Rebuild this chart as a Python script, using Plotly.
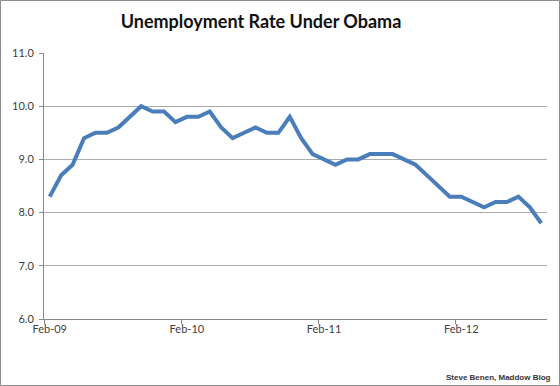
import plotly.graph_objects as go

months = ["Feb-09","Mar-09","Apr-09","May-09","Jun-09","Jul-09","Aug-09","Sep-09","Oct-09","Nov-09","Dec-09",
          "Jan-10","Feb-10","Mar-10","Apr-10","May-10","Jun-10","Jul-10","Aug-10","Sep-10","Oct-10","Nov-10","Dec-10",
          "Jan-11","Feb-11","Mar-11","Apr-11","May-11","Jun-11","Jul-11","Aug-11","Sep-11","Oct-11","Nov-11","Dec-11",
          "Jan-12","Feb-12","Mar-12","Apr-12","May-12","Jun-12","Jul-12","Aug-12","Sep-12"]
rate = [8.3, 8.7, 8.9, 9.4, 9.5, 9.5, 9.6, 9.8, 10.0, 9.9, 9.9,
        9.7, 9.8, 9.8, 9.9, 9.6, 9.4, 9.5, 9.6, 9.5, 9.5, 9.8, 9.4,
        9.1, 9.0, 8.9, 9.0, 9.0, 9.1, 9.1, 9.1, 9.0, 8.9, 8.7, 8.5,
        8.3, 8.3, 8.2, 8.1, 8.2, 8.2, 8.3, 8.1, 7.8]
tick_labels = ["Feb-09", "Feb-10", "Feb-11", "Feb-12"]
y_ticks = [6, 7, 8, 9, 10, 11]

idx = list(range(len(months)))
label_pos = [months.index(t) for t in tick_labels]
boundary_pos = [p - 0.5 for p in label_pos]

W, H = 560, 386
ml, mr, mt, mb = 44, 13, 53, 67

fig = go.Figure()
fig.add_trace(go.Scatter(x=idx, y=rate, mode="lines",
                         line=dict(color="#4A7EBB", width=4), hoverinfo="skip", showlegend=False))
# invisible trace to activate the tick-mark axis
fig.add_trace(go.Scatter(x=[idx[0]], y=[rate[0]], xaxis="x2", mode="markers",
                         marker=dict(opacity=0), hoverinfo="skip", showlegend=False))

font_ticks = dict(family="Lato, Open Sans, sans-serif", size=11, color="#404040")

fig.update_layout(
    width=W, height=H,
    margin=dict(l=ml, r=mr, t=mt, b=mb),
    paper_bgcolor="white", plot_bgcolor="white",
    title=dict(text="<b>Unemployment Rate Under Obama</b>", x=261 / W, xref="container", xanchor="center",
               y=1 - 22 / H, yanchor="middle", yref="container",
               font=dict(family="Lato, Open Sans, sans-serif", size=18, color="#111111")),
    xaxis=dict(range=[-0.5, len(months) - 0.5], tickvals=label_pos, ticktext=tick_labels,
               ticks="", showgrid=False, zeroline=False, showline=True, linecolor="#888888",
               linewidth=1, tickfont=font_ticks, fixedrange=True),
    xaxis2=dict(range=[-0.5, len(months) - 0.5], overlaying="x", side="bottom", anchor="y",
                tickvals=boundary_pos, showticklabels=False, ticks="outside", ticklen=4,
                tickcolor="#888888", showgrid=False, zeroline=False, showline=False),
    yaxis=dict(range=[6, 11], tickvals=y_ticks, ticktext=[f"{v:.1f}" for v in y_ticks],
               ticks="outside", ticklen=4, tickcolor="#888888", showgrid=True,
               gridcolor="#ABABAB", gridwidth=1, zeroline=False, showline=True,
               linecolor="#888888", linewidth=1, tickfont=font_ticks, fixedrange=True,
               ticklabelstandoff=3),
    annotations=[dict(text="<b>Steve Benen, Maddow Blog</b>", xref="paper", yref="paper",
                      x=1 + 6 / (W - ml - mr), y=-(377 - (H - mb)) / (H - mt - mb),
                      xanchor="right", yanchor="middle", showarrow=False,
                      font=dict(family="Liberation Sans, Arial, sans-serif", size=8, color="#333333"))],
    shapes=[dict(type="rect", xref="paper", yref="paper",
                 x0=-(ml - 0.5) / (W - ml - mr), x1=1 + (mr - 0.5) / (W - ml - mr),
                 y0=-(mb - 0.5) / (H - mt - mb), y1=1 + (mt - 0.5) / (H - mt - mb),
                 line=dict(color="#8C8C8C", width=1), layer="below")],
)

fig.write_html("out.html", config={"displayModeBar": False, "staticPlot": True},
               post_script="document.body.style.margin='0';document.body.style.padding='0';")
